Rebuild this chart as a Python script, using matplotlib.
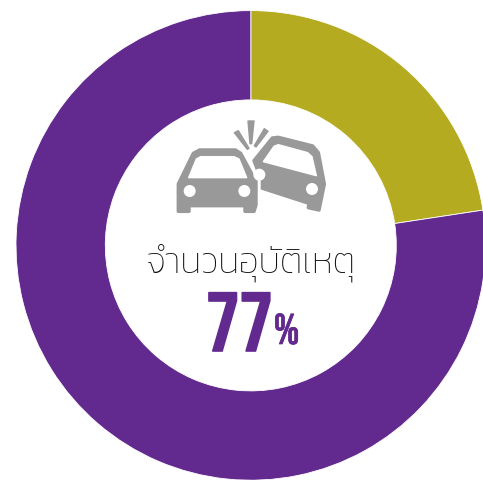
import matplotlib
matplotlib.use("Agg")
import matplotlib.pyplot as plt
from matplotlib.patches import Polygon, Circle
from matplotlib import patheffects as pe

categories = ["other", "accidents"]
values = [22.6, 77.4]
slice_colors = ["#B5AB20", "#622A8E"]
title_text = "จำนวนอุบัติเหตุ"
percent_text = "77"
percent_sign = "%"

GRAY = "#999999"
W, H = 483, 481
NARROW = "Bebas Neue"


def zx(x):
    return 130 + x / 3


def zy(y):
    return H - (110 + y / 3)


def shape(ax, pts, color=GRAY, lw=1.5):
    ax.add_patch(Polygon([(zx(x), zy(y)) for x, y in pts], closed=True, fc=color, ec=color,
                         lw=lw, joinstyle="round", zorder=3))


def dot(ax, x, y, r=18, color="white"):
    ax.add_patch(Circle((zx(x), zy(y)), r / 3, fc=color, ec="none", zorder=5))


fig = plt.figure(figsize=(W / 100, H / 100), dpi=100)
ax = fig.add_axes([0, 0, 1, 1])

ax.pie(values, colors=slice_colors, startangle=90, counterclock=False, center=(250.8, H - 246.4),
       radius=234.8, frame=True, wedgeprops=dict(width=89.3, edgecolor="white", linewidth=0.6))
ax.set_xlim(0, W)
ax.set_ylim(0, H)
ax.set_aspect("equal")
ax.axis("off")

# right car first, left car sits over it
shape(ax, [(372, 155), (427, 87), (445, 85), (548, 111), (565, 131), (583, 225), (567, 303), (535, 296),
           (537, 283), (395, 237), (395, 215)], lw=2.5)
shape(ax, [(400, 158), (432, 112), (445, 107), (533, 131), (546, 143), (559, 200)], color="white", lw=1)
dot(ax, 546, 240)
dot(ax, 388, 197)
# white gap round the left car
shape(ax, [(205, 112), (325, 112), (390, 215), (390, 300), (300, 300), (130, 300), (130, 220), (180, 125)],
      color="white", lw=1)
shape(ax, [(209, 123), (316, 123), (332, 133), (378, 218), (378, 288), (372, 307), (345, 307), (345, 290),
           (177, 290), (177, 307), (145, 307), (145, 225), (190, 133)], lw=2.5)
shape(ax, [(212, 143), (312, 143), (327, 150), (350, 206), (176, 206), (199, 150)], color="white", lw=1)
dot(ax, 179, 246)
dot(ax, 343, 246)
# sparks
shape(ax, [(354, 36), (372, 36), (365, 104), (360, 104)], lw=1)
shape(ax, [(313, 71), (325, 65), (357, 118), (352, 121)], lw=1)
shape(ax, [(403, 59), (414, 67), (378, 114), (373, 110)], lw=1)

ax.text(251, H - 273, title_text, family=["Kanit", "DejaVu Sans"], fontweight=200, fontsize=26,
        color="#111111", ha="center", va="baseline", zorder=6)
# Bebas has one weight, thicken it a little with a stroke
ax.text(239.5, H - 352, percent_text, family=NARROW, fontsize=60,
        color="#622A8E", ha="center", va="baseline", zorder=6,
        path_effects=[pe.withStroke(linewidth=1.2, foreground="#622A8E")])
ax.text(286.5, H - 345, percent_sign, family=NARROW, fontsize=31,
        color="#622A8E", ha="center", va="baseline", zorder=6,
        path_effects=[pe.withStroke(linewidth=0.5, foreground="#622A8E")])

fig.savefig("out.png", dpi=100)
